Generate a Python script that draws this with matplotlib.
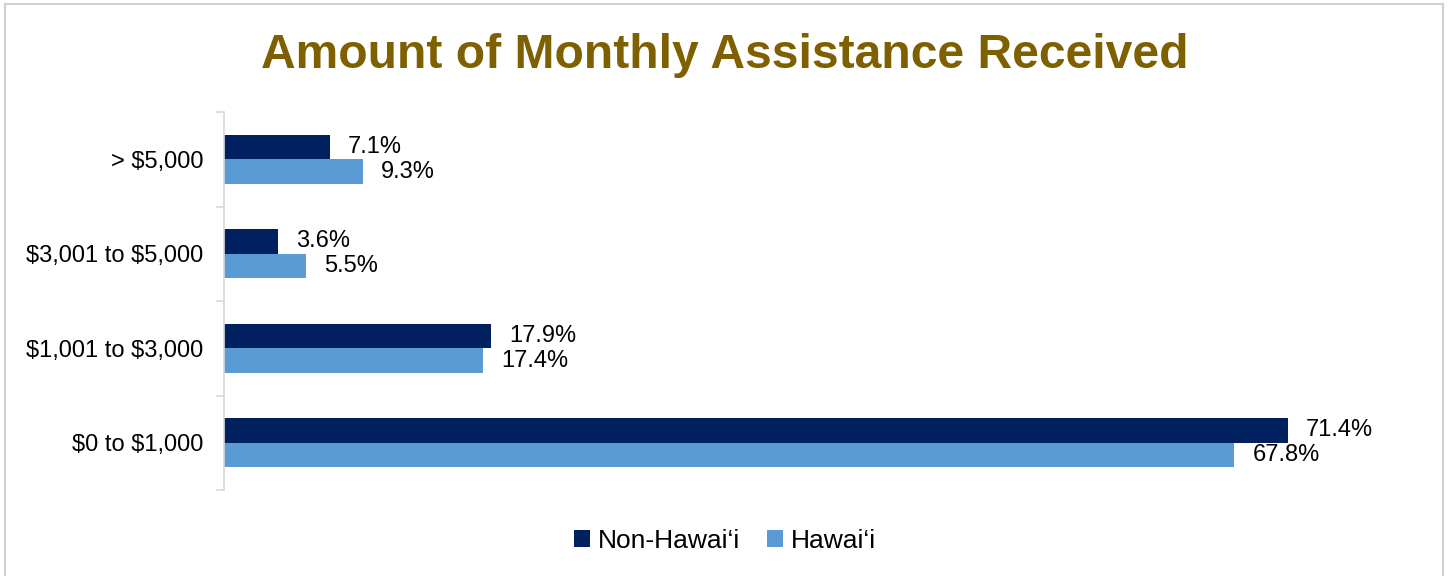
import matplotlib.pyplot as plt
import numpy as np
from matplotlib.patches import Rectangle

plt.rcParams['font.family'] = ['Liberation Sans', 'DejaVu Sans']
plt.rcParams['text.parse_math'] = False

# Categories from bottom to top
categories = ["$0 to $1,000", "$1,001 to $3,000", "$3,001 to $5,000", "> $5,000"]
non_hawaii = [71.4, 17.9, 3.6, 7.1]
hawaii = [67.8, 17.4, 5.5, 9.3]

navy = "#002060"
blue = "#5B9BD5"

fig = plt.figure(figsize=(14.5, 5.76), dpi=100)
ax = fig.add_axes([224 / 1450, 1 - 490 / 576, (1416 - 224) / 1450, (490 - 112) / 576])

y = np.arange(len(categories))
h = 0.26
b1 = ax.barh(y + h / 2, non_hawaii, height=h, color=navy, label="Non-Hawai\u2018i")
b2 = ax.barh(y - h / 2, hawaii, height=h, color=blue, label="Hawai\u2018i")

for bars, vals in ((b1, non_hawaii), (b2, hawaii)):
    ax.bar_label(bars, labels=[f"{v:.1f}%" for v in vals], padding=13, fontsize=17)

ax.set_xlim(0, 80)
ax.set_ylim(-0.5, len(categories) - 0.5)
ax.set_yticks(y)
ax.set_yticklabels(categories, fontsize=17)
ax.set_yticks(np.arange(-0.5, len(categories)), minor=True)
ax.tick_params(axis="y", which="major", length=0, pad=15)
ax.tick_params(axis="y", which="minor", length=6, color="#D9D9D9", width=1.2)
ax.set_xticks([])
for s in ("top", "right", "bottom"):
    ax.spines[s].set_visible(False)
ax.spines["left"].set_color("#D9D9D9")
ax.spines["left"].set_linewidth(1.2)

fig.text(0.5, 1 - 56 / 576, "Amount of Monthly Assistance Received", ha="center", va="center",
         fontsize=34.6, fontweight="bold", color="#7F6000")

fig.legend(handles=[b1, b2], loc="center", bbox_to_anchor=(0.5, 1 - 541 / 576), ncol=2,
           frameon=False, fontsize=19, handlelength=0.6, handleheight=0.6, handletextpad=0.3,
           columnspacing=1.0)

fig.patches.append(Rectangle((5 / 1450, -0.01), 1438 / 1450, 1 - 4 / 576 + 0.01,
                             transform=fig.transFigure, fill=False, edgecolor="#D0D0D0", lw=1.5))

fig.savefig("out.png", dpi=100)
